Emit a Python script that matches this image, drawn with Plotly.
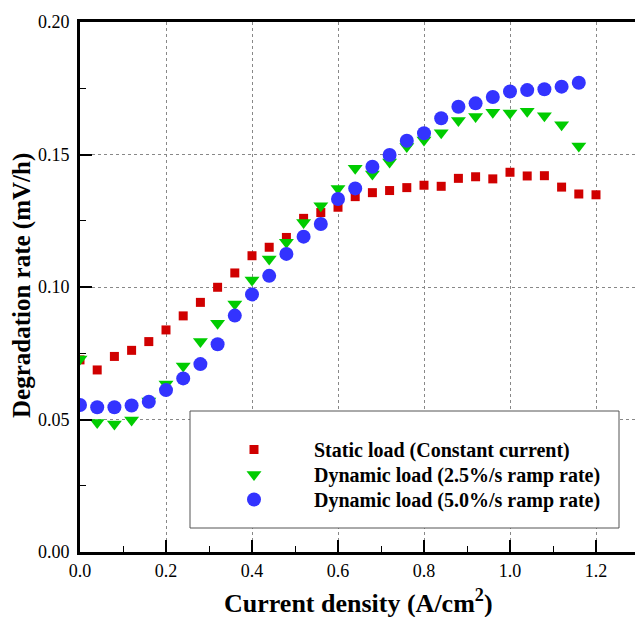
import plotly.graph_objects as go

x_static = [0.00, 0.04, 0.08, 0.12, 0.16, 0.20, 0.24, 0.28, 0.32, 0.36, 0.40, 0.44, 0.48, 0.52, 0.56, 0.60,
            0.64, 0.68, 0.72, 0.76, 0.80, 0.84, 0.88, 0.92, 0.96, 1.00, 1.04, 1.08, 1.12, 1.16, 1.20]
y_static = [0.0725, 0.0687, 0.0738, 0.0761, 0.0794, 0.0838, 0.0891, 0.0942, 0.0999, 0.1053, 0.1118, 0.1150,
            0.1187, 0.1259, 0.1281, 0.1301, 0.1341, 0.1356, 0.1364, 0.1375, 0.1384, 0.1380, 0.1410, 0.1416,
            0.1408, 0.1433, 0.1419, 0.1420, 0.1377, 0.1351, 0.1348]

x_dyn25 = [0.00, 0.04, 0.08, 0.12, 0.16, 0.20, 0.24, 0.28, 0.32, 0.36, 0.40, 0.44, 0.48, 0.52, 0.56, 0.60,
           0.64, 0.68, 0.72, 0.76, 0.80, 0.84, 0.88, 0.92, 0.96, 1.00, 1.04, 1.08, 1.12, 1.16]
y_dyn25 = [0.0728, 0.0489, 0.0483, 0.0498, 0.0570, 0.0634, 0.0702, 0.0794, 0.0863, 0.0936, 0.1026, 0.1106,
           0.1169, 0.1243, 0.1307, 0.1372, 0.1448, 0.1426, 0.1472, 0.1530, 0.1555, 0.1582, 0.1628, 0.1643,
           0.1659, 0.1657, 0.1663, 0.1646, 0.1612, 0.1532]

x_dyn50 = [0.00, 0.04, 0.08, 0.12, 0.16, 0.20, 0.24, 0.28, 0.32, 0.36, 0.40, 0.44, 0.48, 0.52, 0.56, 0.60,
           0.64, 0.68, 0.72, 0.76, 0.80, 0.84, 0.88, 0.92, 0.96, 1.00, 1.04, 1.08, 1.12, 1.16]
y_dyn50 = [0.0555, 0.0546, 0.0546, 0.0553, 0.0567, 0.0611, 0.0655, 0.0709, 0.0784, 0.0892, 0.0972, 0.1042,
           0.1125, 0.1190, 0.1238, 0.1332, 0.1372, 0.1454, 0.1498, 0.1552, 0.1580, 0.1637, 0.1680, 0.1693,
           0.1717, 0.1738, 0.1743, 0.1746, 0.1756, 0.1771]

names = ["Static load (Constant current)",
         "Dynamic load (2.5%/s ramp rate)",
         "Dynamic load (5.0%/s ramp rate)"]

SERIF = "Liberation Serif, Times New Roman, serif"
pad = "\u00a0" * 8

fig = go.Figure()
fig.add_trace(go.Scatter(x=x_static, y=y_static, mode="markers", name=pad + names[0], legend="legend",
                         marker=dict(symbol="square", size=9, color="#D00000")))
fig.add_trace(go.Scatter(x=x_dyn25, y=y_dyn25, mode="markers", name=pad + names[1], legend="legend2",
                         marker=dict(symbol="triangle-down", size=13, color="#00CC00")))
fig.add_trace(go.Scatter(x=x_dyn50, y=y_dyn50, mode="markers", name=pad + names[2], legend="legend3",
                         marker=dict(symbol="circle", size=14, color="#3333FF")))

W, H = 635, 617
L, R, T, B = 80, 0, 22, 65
pw, ph = W - L - R, H - T - B


def px2paper_x(px):
    return (px - L) / pw


def px2paper_y(py):
    return (H - B - py) / ph


fig.add_shape(type="rect", xref="paper", yref="paper",
              x0=px2paper_x(190), x1=px2paper_x(619), y0=px2paper_y(528), y1=px2paper_y(411),
              line=dict(color="#555555", width=1), fillcolor="white", layer="above")

fig.add_annotation(text="<b>Current density (A/cm<sup>2</sup>)</b>", xref="paper", yref="paper",
                   x=px2paper_x(358), y=px2paper_y(601), xanchor="center", yanchor="middle",
                   showarrow=False, font=dict(family=SERIF, size=26, color="black"))
fig.add_annotation(text="<b>Degradation rate (mV/h)</b>", xref="paper", yref="paper",
                   x=px2paper_x(22), y=px2paper_y(286), xanchor="center", yanchor="middle",
                   textangle=-90, showarrow=False, font=dict(family=SERIF, size=25, color="black"))


def leg(row_center_px):
    return dict(x=px2paper_x(234), y=px2paper_y(row_center_px - 19), xanchor="left", yanchor="top",
                bgcolor="rgba(0,0,0,0)", borderwidth=0,
                font=dict(family=SERIF, size=20, color="black", weight="bold"),
                itemsizing="trace")


fig.update_layout(
    width=W, height=H,
    margin=dict(l=L, r=R, t=T, b=B, autoexpand=False),
    plot_bgcolor="white", paper_bgcolor="white",
    font=dict(family=SERIF, color="black"),
    showlegend=True,
    legend=leg(449), legend2=leg(474), legend3=leg(499),
    xaxis=dict(range=[0, pw / 430.0], tickvals=[0, 0.2, 0.4, 0.6, 0.8, 1.0, 1.2],
               ticktext=["0.0", "0.2", "0.4", "0.6", "0.8", "1.0", "1.2"],
               ticks="inside", ticklen=12, tickwidth=2, tickcolor="black",
               minor=dict(dtick=0.1, tick0=0, ticks="inside", ticklen=6, tickwidth=1, tickcolor="black",
                          showgrid=False),
               showline=True, linecolor="black", linewidth=3, mirror=True,
               showgrid=True, gridcolor="#888888", griddash="dot", gridwidth=1,
               zeroline=False, automargin=False,
               tickfont=dict(family=SERIF, size=18)),
    yaxis=dict(range=[0, 0.2], tickvals=[0, 0.05, 0.10, 0.15, 0.20],
               ticktext=["0.00", "0.05", "0.10", "0.15", "0.20"],
               ticks="inside", ticklen=12, tickwidth=2, tickcolor="black",
               minor=dict(dtick=0.025, tick0=0, ticks="inside", ticklen=6, tickwidth=1, tickcolor="black",
                          showgrid=False),
               showline=True, linecolor="black", linewidth=3, mirror=False,
               showgrid=True, gridcolor="#888888", griddash="dot", gridwidth=1,
               zeroline=False, ticklabelstandoff=4, automargin=False,
               tickfont=dict(family=SERIF, size=18)),
)

fig.write_html("out.html", config={"displayModeBar": False},
               post_script="document.body.style.margin='0';")
